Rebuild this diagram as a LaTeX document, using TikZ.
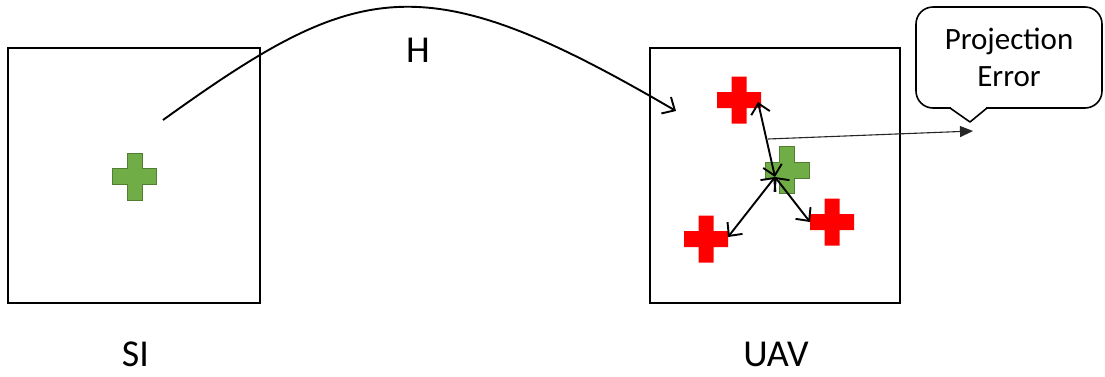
\documentclass[tikz,border=0pt]{standalone}
\usepackage{fontspec}
\setmainfont{Carlito}
\usetikzlibrary{arrows.meta}
\definecolor{crossgreen}{RGB}{112,173,71}
\definecolor{crossgreenedge}{RGB}{80,126,50}
\definecolor{crossred}{RGB}{255,0,0}
\tikzset{
  frame/.style={draw=black, line width=2pt, minimum width=#1, minimum height=255pt, inner sep=0pt},
  greenplus/.style={fill=crossgreen, draw=crossgreenedge, line width=1pt},
  redplus/.style={fill=crossred},
  bigtext/.style={font=\fontsize{38}{46}\selectfont, inner sep=0pt},
  homarrow/.style={line width=1.9pt, -{Straight Barb[length=10pt,width=19pt,line width=1.9pt]}},
  errarrow/.style={line width=1.9pt, {Straight Barb[length=10pt,width=19pt,line width=1.9pt]}-{Straight Barb[length=10pt,width=19pt,line width=1.9pt]}},
  projarrow/.style={line width=1.1pt, draw=black!85, -{Triangle[length=13pt,width=11pt]}},
  callout/.style={draw=black, line width=1.6pt, rounded corners=17pt, minimum width=186pt, minimum height=101pt, inner sep=0pt, align=center, font=\fontsize{31}{37}\selectfont}
}
\newcommand{\plusshape}[3]{%
  \path[#1] (#2-7.5,#3-23.5) -- ++(15,0) -- ++(0,15.5) -- ++(14.5,0) -- ++(0,16) -- ++(-14.5,0) -- ++(0,15.5) -- ++(-15,0) -- ++(0,-15.5) -- ++(-14.5,0) -- ++(0,-16) -- ++(14.5,0) -- cycle;}
\begin{document}
\begin{tikzpicture}[x=1pt,y=-1pt]
\useasboundingbox (0,0) rectangle (1105,376);
% frames
\node[frame=252pt] (si) at (134,175.5) {};
\node[frame=250pt] (uav) at (775,175.5) {};
% crosses
\plusshape{greenplus}{134.5}{176.5}
\plusshape{greenplus}{787}{170}
\plusshape{redplus}{739}{100}
\plusshape{redplus}{706}{239}
\plusshape{redplus}{832}{222}
% labels
\node[bigtext, anchor=base] (silabel) at (135.5,366) {SI};
\node[bigtext, anchor=base] (uavlabel) at (776,366) {UAV};
\node[bigtext, anchor=base] (hlabel) at (418,62) {H};
% homography curve
\coordinate (hstart) at (163,120);
\coordinate (hend) at (676,111);
\draw[homarrow] (hstart) .. controls (359,-21) and (423,-37) .. (hend);
% error arrows
\coordinate (hub) at (775,177);
\coordinate (etop) at (758,102);
\coordinate (eleft) at (728,237);
\coordinate (eright) at (810,222);
\draw[errarrow] (hub) -- (etop);
\draw[errarrow] (hub) -- (eleft);
\draw[errarrow] (hub) -- (eright);
% callout
\node[callout] (pe) at (1009,57.5) {\raisebox{-2pt}{Projection}\\\raisebox{-2pt}{Error}};
\fill[white] (951,106) rectangle (986,110);
\coordinate (ptip) at (970,122);
\draw[line width=1.6pt, line join=round] (950,108) -- (ptip) -- (987,108);
% projection error pointer
\coordinate (pstart) at (768,139);
\coordinate (pend) at (973,131);
\draw[projarrow] (pstart) -- (pend);
\end{tikzpicture}
\end{document}
